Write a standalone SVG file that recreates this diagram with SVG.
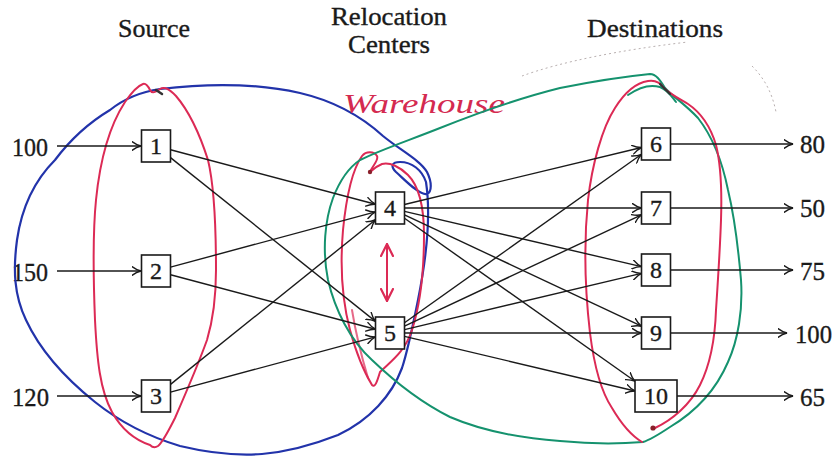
<svg xmlns="http://www.w3.org/2000/svg" width="834" height="458" viewBox="0 0 834 458">
  <style>
    .lbl { font-family: "Liberation Serif", "Times New Roman", serif; fill: #1a1a1a; stroke: #1a1a1a; stroke-width: 0.35; }
    .head { font-size: 25px; }
    .num { font-size: 26px; }
    .box rect { fill: #ffffff; stroke: #1a1a1a; stroke-width: 1.6; }
    .box text { font-family: "Liberation Serif", "Times New Roman", serif; font-size: 24px; fill: #1a1a1a; stroke: #1a1a1a; stroke-width: 0.35; text-anchor: middle; }
    .edge { fill: none; stroke: #1a1a1a; stroke-width: 1.4; marker-end: url(#arrow); }
    .pen { fill: none; stroke-linecap: round; stroke-linejoin: round; }
    .blue { stroke: #2233aa; stroke-width: 2.2; }
    .red { stroke: #dc2a55; stroke-width: 2; }
    .green { stroke: #15926e; stroke-width: 2; }
    .faint { fill: none; stroke: #b9b0b0; stroke-width: 1; stroke-dasharray: 2 3; }
  </style>
  <defs>
    <marker id="arrow" viewBox="0 0 10 10" refX="9.5" refY="5" markerWidth="10" markerHeight="10" markerUnits="userSpaceOnUse" orient="auto">
      <path d="M0.5,0.6 Q5,4 9.5,5 Q5,6 0.5,9.4" fill="none" stroke="#1a1a1a" stroke-width="1.4" stroke-linecap="round"/>
    </marker>
    <marker id="redhead" viewBox="0 0 14 14" refX="13" refY="7" markerWidth="14" markerHeight="14" markerUnits="userSpaceOnUse" orient="auto-start-reverse">
      <path d="M1,1 L13,7 L1,13" fill="none" stroke="#dc2a55" stroke-width="2.2" stroke-linecap="round" stroke-linejoin="round"/>
    </marker>
  </defs>

  <!-- column headings -->
  <text class="lbl head" x="118" y="37" textLength="72" lengthAdjust="spacingAndGlyphs">Source</text>
  <text class="lbl head" x="331" y="25" textLength="116" lengthAdjust="spacingAndGlyphs">Relocation</text>
  <text class="lbl head" x="348" y="53" textLength="82" lengthAdjust="spacingAndGlyphs">Centers</text>
  <text class="lbl head" x="587" y="37" textLength="136" lengthAdjust="spacingAndGlyphs">Destinations</text>

  <!-- supply and demand quantities -->
  <text class="lbl num" x="12" y="156" textLength="36" lengthAdjust="spacingAndGlyphs">100</text>
  <text class="lbl num" x="12" y="281" textLength="36" lengthAdjust="spacingAndGlyphs">150</text>
  <text class="lbl num" x="12" y="406" textLength="37" lengthAdjust="spacingAndGlyphs">120</text>
  <text class="lbl num" x="800" y="153" textLength="25" lengthAdjust="spacingAndGlyphs">80</text>
  <text class="lbl num" x="800" y="217" textLength="25" lengthAdjust="spacingAndGlyphs">50</text>
  <text class="lbl num" x="800" y="280" textLength="25" lengthAdjust="spacingAndGlyphs">75</text>
  <text class="lbl num" x="795" y="343" textLength="37" lengthAdjust="spacingAndGlyphs">100</text>
  <text class="lbl num" x="800" y="406" textLength="25" lengthAdjust="spacingAndGlyphs">65</text>

  <!-- hand-drawn annotations (behind the network) -->
  <g id="annotations">
    <!-- faint dotted scan marks -->
    <path class="faint" d="M522,76 C560,62 620,50 688,42"/>
    <path class="faint" d="M752,66 C764,78 772,92 776,112"/>
    <!-- blue loop around sources -->
    <path class="pen blue" d="M110,110 C125,98 140,92 160,89 C210,83 260,84 300,93 C330,100 360,115 383,136 C400,150 420,160 427,172 C432,182 432,192 427,194 C420,196 405,180 396,172 C390,166 392,162 400,162 C412,162 422,170 426,182 C431,215 426,260 418,300 C412,330 408,350 402,368 C392,395 370,420 338,435 C310,446 285,452 262,454 C235,456 205,452 180,446 C150,437 120,422 95,402 C65,378 40,350 26,320 C14,295 13,270 17,240 C22,205 35,180 55,160 C70,140 90,122 110,110"/>
    <!-- red loop around sources -->
    <path class="pen red" d="M150,445 C135,440 122,430 112,412 C100,390 97,360 95,320 C93,270 93,230 96,200 C100,160 110,125 125,102 C132,92 137,86 143,84 C146,83 148,86 150,90 C152,94 156,92 160,89 C165,86 170,90 176,96 C188,110 200,135 208,160 C214,185 216,230 216,270 C216,300 213,320 207,340 C198,365 185,395 175,418 C168,432 163,442 158,446 C155,448 152,447 150,445"/>
    <path d="M156,90 L162,94" stroke="#333" stroke-width="2.5" stroke-linecap="round"/>
    <!-- red loop round the relocation centres -->
    <path class="pen red" d="M370,172 C373,165 379,160 377,156 C374,151 366,151 362,156 C352,170 346,200 343,230 C340,265 342,300 350,330 C356,352 364,372 372,385 C375,388 377,382 380,372 C390,362 405,352 412,330 C420,305 424,270 424,235 C424,205 418,185 408,175 C400,167 390,162 382,164 C377,166 372,170 370,172"/>
    <path class="pen red" stroke-width="1.4" d="M352,310 C356,335 362,358 368,378" opacity="0.7"/>
    <circle cx="370" cy="172" r="2.2" fill="#8a1f2a"/>
    <!-- red double arrow between the two centres -->
    <line class="pen red" x1="387" y1="244" x2="387" y2="301" stroke-width="2.6" marker-start="url(#redhead)" marker-end="url(#redhead)"/>
    <!-- handwritten label -->
    <text x="343" y="113" font-family="'Liberation Serif', 'DejaVu Serif', serif" font-style="italic" font-size="28" fill="#d42a50" textLength="162" lengthAdjust="spacingAndGlyphs">Warehouse</text>
    <!-- green loop around centres and destinations -->
    <path class="pen green" d="M360,160 C380,150 410,140 440,128 C480,112 520,98 560,88 C600,80 630,76 650,74 C656,74 660,80 665,88 C672,96 685,104 698,118 C712,136 722,160 728,190 C734,215 738,245 741,280 C743,310 738,340 728,362 C716,390 695,412 670,427 C658,435 650,440 643,442 C620,444 590,444 560,441 C520,438 480,430 450,417 C420,402 395,382 372,360 C350,340 335,310 328,280 C322,250 325,220 333,198 C340,180 348,168 360,160"/>
    <path class="pen green" d="M628,95 C638,88 650,84 660,87 C668,90 672,97 676,102"/>
    <!-- red loop around destinations -->
    <path class="pen red" d="M655,428 C672,420 690,405 700,385 C710,365 715,340 716,310 C718,280 720,250 721,220 C722,190 721,165 716,145 C710,125 700,112 688,104 C678,98 670,94 664,88 C660,82 654,80 648,81 C635,83 625,92 615,108 C602,128 592,165 588,200 C584,240 585,290 590,333 C594,365 600,390 612,408 C622,425 632,436 642,442"/>
    <path d="M660,84 L670,94" stroke="#333" stroke-width="2.2" stroke-linecap="round"/>
    <circle cx="653" cy="428" r="2.6" fill="#8a1f2a"/>
  </g>

  <!-- connectors -->
  <g id="connectors">
    <line class="edge" x1="57" y1="146" x2="141" y2="146"/>
    <line class="edge" x1="57" y1="271" x2="141" y2="271"/>
    <line class="edge" x1="57" y1="396" x2="141" y2="396"/>
    <line class="edge" x1="170.5" y1="149.8" x2="375.5" y2="204.2"/>
    <line class="edge" x1="170.5" y1="157.6" x2="375.5" y2="321.4"/>
    <line class="edge" x1="170.5" y1="267.1" x2="375.5" y2="211.9"/>
    <line class="edge" x1="170.5" y1="274.8" x2="375.5" y2="329.2"/>
    <line class="edge" x1="170.5" y1="384.4" x2="375.5" y2="219.7"/>
    <line class="edge" x1="170.5" y1="392.1" x2="375.5" y2="336.9"/>
    <line class="edge" x1="404.5" y1="204.5" x2="641.5" y2="147.5"/>
    <line class="edge" x1="404.5" y1="208" x2="641.5" y2="208"/>
    <line class="edge" x1="404.5" y1="211.4" x2="641.5" y2="266.6"/>
    <line class="edge" x1="404.5" y1="214.8" x2="641.5" y2="326.2"/>
    <line class="edge" x1="404.5" y1="218.3" x2="635" y2="381.2"/>
    <line class="edge" x1="404.5" y1="322.7" x2="641.5" y2="154.3"/>
    <line class="edge" x1="404.5" y1="326.2" x2="641.5" y2="214.8"/>
    <line class="edge" x1="404.5" y1="329.6" x2="641.5" y2="273.4"/>
    <line class="edge" x1="404.5" y1="333" x2="641.5" y2="333"/>
    <line class="edge" x1="404.5" y1="336.4" x2="635" y2="391"/>
    <line class="edge" x1="670.5" y1="144" x2="793" y2="144"/>
    <line class="edge" x1="670.5" y1="208" x2="793" y2="208"/>
    <line class="edge" x1="670.5" y1="270" x2="793" y2="270"/>
    <line class="edge" x1="670.5" y1="333" x2="787" y2="333"/>
    <line class="edge" x1="677" y1="396" x2="793" y2="396"/>
  </g>

  <!-- nodes -->
  <g id="node1" class="box"><rect x="141.5" y="130" width="29" height="32"/><text x="156" y="154">1</text></g>
  <g id="node2" class="box"><rect x="141.5" y="255" width="29" height="32"/><text x="156" y="279">2</text></g>
  <g id="node3" class="box"><rect x="141.5" y="380" width="29" height="32"/><text x="156" y="404">3</text></g>
  <g id="node4" class="box"><rect x="375.5" y="192" width="29" height="32"/><text x="390" y="216">4</text></g>
  <g id="node5" class="box"><rect x="375.5" y="317" width="29" height="32"/><text x="390" y="341">5</text></g>
  <g id="node6" class="box"><rect x="641.5" y="128" width="29" height="32"/><text x="656" y="152">6</text></g>
  <g id="node7" class="box"><rect x="641.5" y="192" width="29" height="32"/><text x="656" y="216">7</text></g>
  <g id="node8" class="box"><rect x="641.5" y="254" width="29" height="32"/><text x="656" y="278">8</text></g>
  <g id="node9" class="box"><rect x="641.5" y="317" width="29" height="32"/><text x="656" y="341">9</text></g>
  <g id="node10" class="box"><rect x="635" y="380" width="42" height="32"/><text x="656" y="404">10</text></g>
</svg>
